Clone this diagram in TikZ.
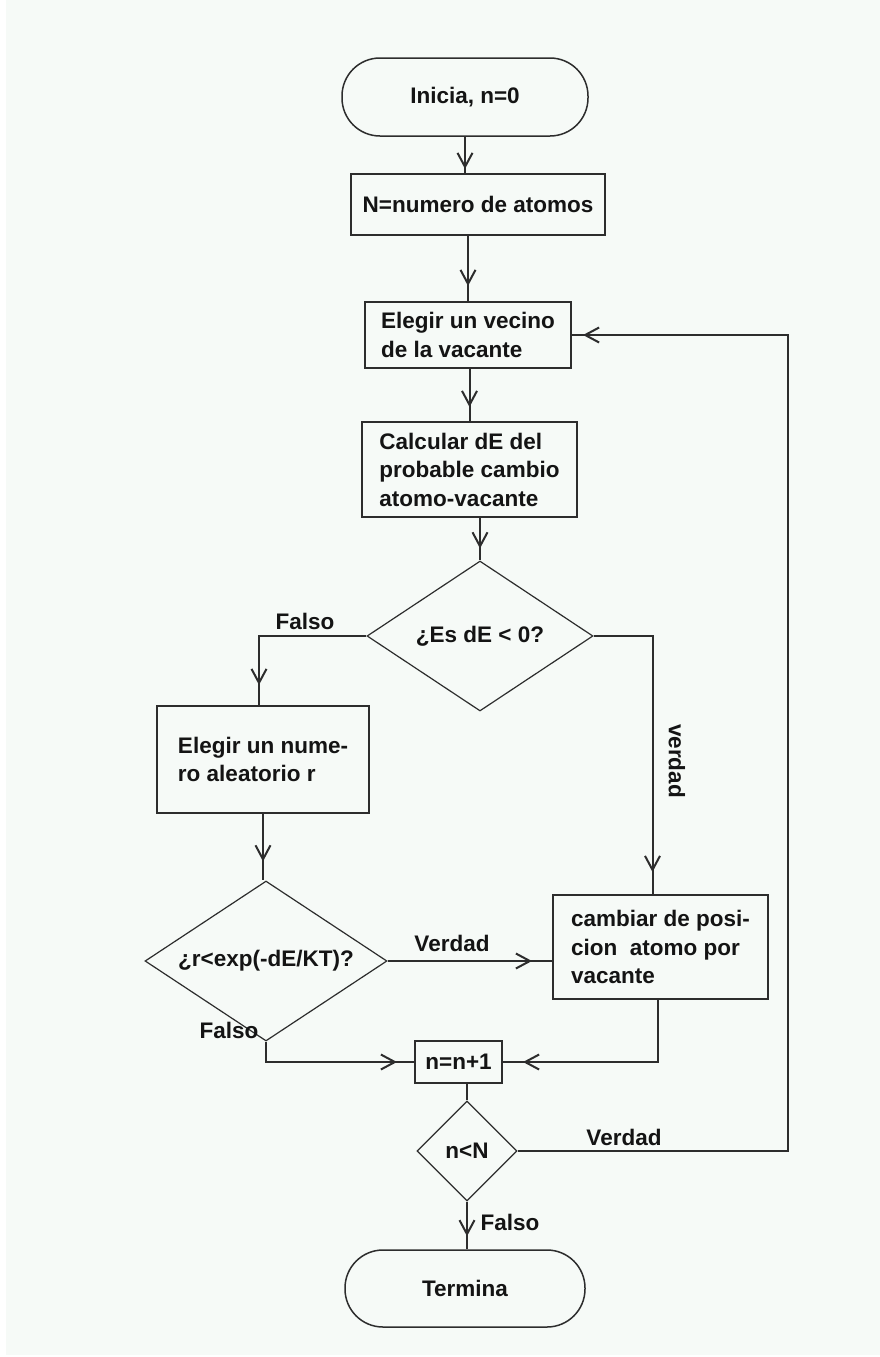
\documentclass[tikz,border=0pt]{standalone}
\usepackage{fontspec}
\setmainfont{Liberation Sans}
\usetikzlibrary{arrows.meta, shapes.geometric, decorations.markings}

\definecolor{paper}{RGB}{246,250,247}
\definecolor{ink}{RGB}{45,45,45}
\definecolor{lettering}{RGB}{20,20,20}

\tikzset{
  every node/.style={font=\bfseries\fontsize{22.5}{28.5}\selectfont, text=lettering},
  proc/.style={draw=ink, line width=2pt, align=left, inner sep=0pt},
  term/.style={draw=ink, line width=1.5pt, rounded corners=38pt, inner sep=0pt},
  decide/.style={draw=ink, line width=1.2pt, diamond, inner sep=0pt},
  conn/.style={draw=ink, line width=2pt},
  flow/.style={conn, decoration={markings,
      mark=at position -#1pt with {\arrow[line width=2pt]{Straight Barb[length=14pt,width=15pt]}}},
    postaction={decorate}},
}

\begin{document}
\begin{tikzpicture}[x=1pt, y=-1pt]
% sheet
\fill[white] (0,0) rectangle (880,1357);
\fill[paper] (6,0) rectangle (880,1355);

% boxes
\node[term, minimum width=246pt, minimum height=78pt] (start) at (465,97) {Inicia, n=0};
\node[proc, minimum width=254pt, minimum height=61pt] (nbox) at (478,204.5) {N=numero de atomos};
\node[proc, minimum width=206pt, minimum height=66pt] (vecino) at (468,335) {Elegir un vecino\\de la vacante};
\node[proc, minimum width=215pt, minimum height=95pt] (calc) at (469.5,469.5) {Calcular dE del\\probable cambio\\atomo-vacante};
\node[decide, minimum width=226pt, minimum height=150pt, shape aspect=1.5] (d1) at (480,636) {¿Es dE < 0?};
\node[proc, minimum width=212pt, minimum height=107pt] (num) at (263,759.5) {Elegir un nume-\\ro aleatorio r};
\node[decide, minimum width=242pt, minimum height=160pt, shape aspect=1.5] (d2) at (266,961) {¿r<exp(-dE/KT)?};
\node[proc, minimum width=215pt, minimum height=104pt] (camb) at (660.5,947) {cambiar de posi-\\cion~ atomo por\\vacante};
\node[proc, minimum width=87pt, minimum height=42pt, align=center] (inc) at (458.5,1062) {n=n+1};
\node[decide, minimum width=100pt, minimum height=100pt] (cond) at (467,1151) {n<N};
\node[term, minimum width=240pt, minimum height=77pt] (stop) at (465,1288.5) {Termina};
\coordinate (back) at (788,335);

% branch labels
\node (f1) at (305,621) {Falso};
\node[rotate=-90] (v1) at (677,761) {verdad};
\node (v2) at (452,943) {Verdad};
\node (f2) at (229,1030) {Falso};
\node (v3) at (624,1137) {Verdad};
\node (f3) at (510,1222) {Falso};

% connectors
\draw[flow=4] (start.south) -- (start.south |- nbox.north);
\draw[flow=15] (nbox.south -| vecino.north) -- (vecino.north);
\draw[flow=14] (vecino.south -| calc.north) -- (calc.north);
\draw[flow=12] (calc.south -| d1.north) -- (d1.north);
\draw[flow=20] (d1.west) -| ([xshift=-4pt]num.north);
\draw[flow=22] (d1.east) -| ([xshift=-8pt]camb.north);
\draw[flow=19] (num.south) -- (num.south |- d2.north);
\draw[flow=20] (d2.east) -- (d2.east -| camb.west);
\draw[flow=17] (d2.south) |- (inc.west);
\draw[flow=20] ([xshift=-3pt]camb.south) |- (inc.east);
\draw[conn] (inc.south -| cond.north) -- (cond.north);
\draw[flow=11] (cond.east) -| (back) -- (vecino.east);
\draw[flow=13] (cond.south) -- (cond.south |- stop.north);
\end{tikzpicture}
\end{document}
